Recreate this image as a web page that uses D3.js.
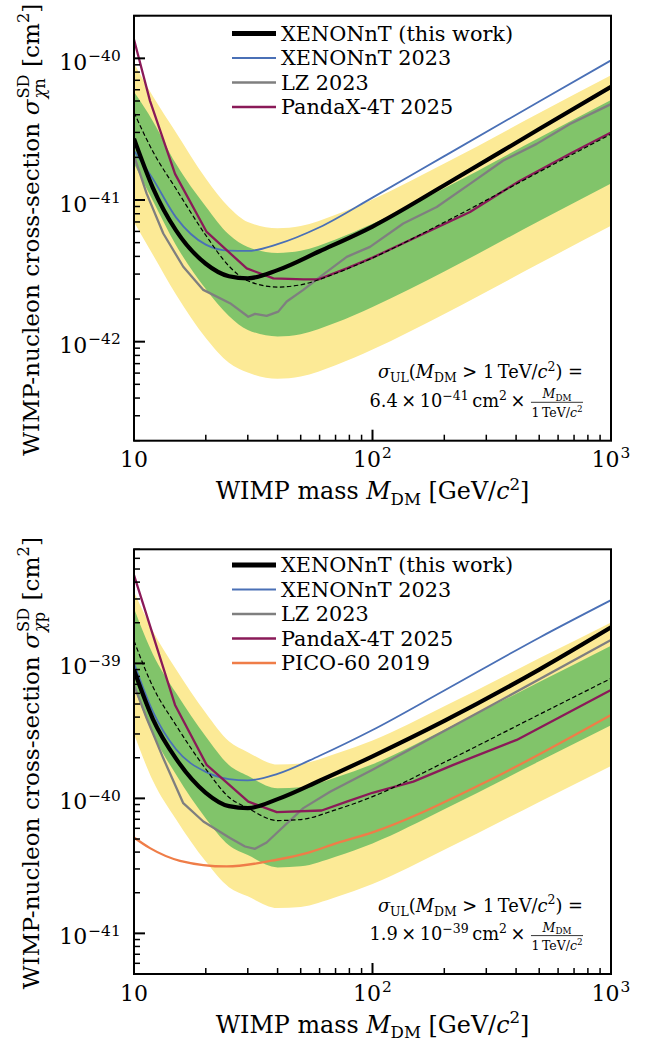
<!DOCTYPE html>
<html>
<head>
<meta charset="utf-8">
<script src="https://cdn.jsdelivr.net/npm/d3@7"></script>
<style>
  body { margin: 0; background: #fff; }
  svg text { font-family: "DejaVu Serif", serif; fill: #000; white-space: pre; }
</style>
</head>
<body>
<svg id="chart" width="647" height="1044"></svg>
<script>
// WIMP masses (GeV/c^2) for bands and smooth limit curves
const massBand = [10, 12, 15, 20, 25, 30, 40, 50, 70, 100, 200, 500, 1000];
const massLimit = [10, 12, 15, 20, 25, 30, 40, 60, 100, 200, 500, 1000];

// --- SD WIMP-neutron (top) ---
const nMedian = [4.15e-41, 2.2e-41, 1.2e-41, 5.64e-42, 3.42e-42, 2.69e-42, 2.43e-42, 2.52e-42, 3.03e-42, 3.9e-42, 6.96e-42, 1.58e-41, 2.92e-41];
const n1sUp = [5.8e-41, 3.6e-41, 1.8e-41, 9.0e-42, 5.7e-42, 4.65e-42, 4.23e-42, 4.38e-42, 5.27e-42, 6.79e-42, 1.21e-41, 2.75e-41, 5.08e-41];
const n2sUp = [9.2e-41, 5.4e-41, 3.0e-41, 1.42e-41, 8.9e-42, 7.0e-42, 6.32e-42, 6.55e-42, 7.88e-42, 1.01e-41, 1.81e-41, 4.11e-41, 7.59e-41];
const n1sLo = [1.8e-41, 9.9e-42, 4.8e-42, 2.35e-42, 1.52e-42, 1.21e-42, 1.09e-42, 1.13e-42, 1.36e-42, 1.76e-42, 3.13e-42, 7.11e-42, 1.31e-41];
const n2sLo = [7.0e-42, 4.1e-42, 2.15e-42, 1.06e-42, 7.1e-43, 6.05e-43, 5.47e-43, 5.67e-43, 6.82e-43, 8.8e-43, 1.57e-42, 3.56e-42, 6.57e-42];
const nThisWork = [2.71e-41, 1.22e-41, 6.1e-42, 3.55e-42, 2.9e-42, 2.8e-42, 3.2e-42, 4.35e-42, 6.5e-42, 1.27e-41, 3.17e-41, 6.3e-41];
const nXenon2023 = [2.23e-41, 1.41e-41, 7.54e-42, 4.84e-42, 4.39e-42, 4.37e-42, 4.88e-42, 6.42e-42, 1.04e-41, 2.04e-41, 4.96e-41, 9.68e-41];
const nLzMass = [10, 11.3, 13.27, 16.09, 19.53, 25.26, 30.15, 32.16, 36.0, 40.27, 43.69, 51.28, 60.26, 77.97, 97.6, 134.6, 185.9, 256.3, 353.5, 488, 673, 1000];
const nLz = [2.06e-41, 1.11e-41, 5.80e-42, 3.38e-42, 2.32e-42, 1.87e-42, 1.50e-42, 1.57e-42, 1.52e-42, 1.63e-42, 1.92e-42, 2.32e-42, 2.87e-42, 3.97e-42, 4.67e-42, 6.82e-42, 8.92e-42, 1.30e-41, 1.90e-41, 2.49e-41, 3.44e-41, 4.75e-41];
const nPandaMass = [10, 11.67, 14.86, 20.17, 29.7, 38.4, 51.3, 59.3, 78, 100, 256.3, 415.4, 673, 1000];
const nPanda = [1.36e-40, 5.01e-41, 1.53e-41, 5.95e-42, 3.29e-42, 2.80e-42, 2.75e-42, 2.75e-42, 3.29e-42, 3.92e-42, 8.22e-42, 1.37e-41, 2.12e-41, 3.00e-41];

// --- SD WIMP-proton (bottom) ---
const pMedian = [1.47e-39, 6.71e-40, 3.48e-40, 1.65e-40, 1.02e-40, 8.47e-41, 6.85e-41, 6.97e-41, 8.22e-41, 1.03e-40, 1.85e-40, 4.18e-40, 7.74e-40];
const p1sUp = [2.55e-39, 1.17e-39, 6.05e-40, 2.87e-40, 1.77e-40, 1.47e-40, 1.19e-40, 1.21e-40, 1.43e-40, 1.79e-40, 3.22e-40, 7.27e-40, 1.35e-39];
const p2sUp = [3.4e-39, 1.74e-39, 9.05e-40, 4.29e-40, 2.65e-40, 2.2e-40, 1.78e-40, 1.81e-40, 2.14e-40, 2.68e-40, 4.81e-40, 1.09e-39, 2.01e-39];
const p1sLo = [6.6e-40, 3.0e-40, 1.5e-40, 7.1e-41, 4.5e-41, 3.8e-41, 3.08e-41, 3.14e-41, 3.7e-41, 4.64e-41, 8.3e-41, 1.88e-40, 3.48e-40];
const p2sLo = [3.0e-40, 1.35e-40, 7.0e-41, 3.4e-41, 2.2e-41, 1.88e-41, 1.54e-41, 1.57e-41, 1.85e-41, 2.32e-41, 4.16e-41, 9.4e-41, 1.74e-40];
const pThisWork = [8.92e-40, 3.87e-40, 1.97e-40, 1.10e-40, 8.76e-41, 8.47e-41, 9.87e-41, 1.35e-40, 2.05e-40, 3.75e-40, 9.0e-40, 1.85e-39];
const pXenon2023 = [1.0e-39, 4.39e-40, 2.31e-40, 1.57e-40, 1.39e-40, 1.36e-40, 1.52e-40, 2.07e-40, 3.21e-40, 6.3e-40, 1.55e-39, 2.94e-39];
const pLzMass = [10, 11.3, 13.27, 16.09, 19.53, 25.26, 29.2, 32.16, 36.0, 40.27, 51.28, 66.4, 100, 301, 1000];
const pLz = [6.91e-40, 3.92e-40, 1.98e-40, 9.21e-41, 6.74e-41, 5.08e-41, 4.40e-41, 4.23e-41, 4.71e-41, 5.68e-41, 8.47e-41, 1.12e-40, 1.63e-40, 4.67e-40, 1.49e-39];
const pPandaMass = [10, 14.86, 20.17, 30.15, 39.7, 61.2, 78, 100, 148.3, 218.2, 402.3, 1000];
const pPanda = [4.50e-39, 4.92e-40, 1.77e-40, 9.47e-41, 7.91e-41, 8.13e-41, 9.47e-41, 1.10e-40, 1.33e-40, 1.77e-40, 2.71e-40, 6.35e-40];
const pPicoMass = [10, 11.67, 15.59, 24.47, 39.7, 53.0, 70.8, 100, 282.3, 1000];
const pPico = [5.13e-41, 4.28e-41, 3.45e-41, 3.13e-41, 3.51e-41, 3.93e-41, 4.66e-41, 5.6e-41, 1.26e-40, 4.15e-40];

const cYellow = "#fcea96", cGreen = "#81c46a", cBlue = "#4a70b6", cGray = "#7f7f7f",
      cPurple = "#8a1a58", cOrange = "#ef7d48";

const svg = d3.select("#chart");
const plotLeft = 134, plotRight = 611;
const tickFont = 22, labelFont = 23.8, yLabelFont = 23.2, legendFont = 20.8, noteFont = 17.8;
const thin = "\u2009";

// text with sub/superscripts built from pieces, measured as we go
function rich(parent, parts, size) {
  const g = parent.append("g");
  let cur = 0, lastStart = 0;
  parts.forEach(p => {
    const start = p.stack ? lastStart : cur + (p.dx || 0);
    const t = g.append("text")
      .attr("x", start)
      .attr("y", (p.dy || 0) * size)
      .attr("font-size", size * (p.s || 1));
    const spans = typeof p.t === "string" ? [[p.t, p.it]] : p.t;
    spans.forEach(([s, it]) => t.append("tspan").attr("font-style", it ? "italic" : null).text(s));
    const w = t.node().getComputedTextLength();
    if (p.stack) cur = Math.max(cur, start + w);
    else { lastStart = start; cur = start + w; }
  });
  return { g, width: cur };
}
function place(r, x, y, anchor, rot) {
  const off = anchor === "end" ? -r.width : anchor === "middle" ? -r.width / 2 : 0;
  r.g.attr("transform", `translate(${x},${y})${rot ? ` rotate(${rot})` : ""} translate(${off},0)`);
  return r;
}
const sup = (t) => ({ t, s: 0.7, dy: -0.4 });
const sub = (t) => ({ t, s: 0.7, dy: 0.22 });

const panels = [
  {
    id: "n", top: 15.7, bottom: 440.7, yDomain: [2e-43, 2e-40], labelShift: 11.5,
    bands: [n2sLo, n2sUp, n1sLo, n1sUp], median: nMedian,
    lines: [
      { m: massLimit, s: nXenon2023, color: cBlue, w: 1.8, smooth: true },
      { m: nLzMass, s: nLz, color: cGray, w: 2.3 },
      { m: nPandaMass, s: nPanda, color: cPurple, w: 2.3 }
    ],
    limit: nThisWork, sub: "n",
    legend: ["XENONnT (this work)", "XENONnT 2023", "LZ 2023", "PandaX-4T 2025"],
    legendY: 33.5, coef: "6.4", exp: "−41"
  },
  {
    id: "p", top: 549.3, bottom: 974, yDomain: [5e-42, 7e-39], labelShift: 11,
    bands: [p2sLo, p2sUp, p1sLo, p1sUp], median: pMedian,
    lines: [
      { m: massLimit, s: pXenon2023, color: cBlue, w: 1.8, smooth: true },
      { m: pLzMass, s: pLz, color: cGray, w: 2.3 },
      { m: pPandaMass, s: pPanda, color: cPurple, w: 2.3 },
      { m: pPicoMass, s: pPico, color: cOrange, w: 2.3, smooth: true }
    ],
    limit: pThisWork, sub: "p",
    legend: ["XENONnT (this work)", "XENONnT 2023", "LZ 2023", "PandaX-4T 2025", "PICO-60 2019"],
    legendY: 565, coef: "1.9", exp: "−39"
  }
];

panels.forEach(drawPanel);

function drawPanel(p) {
  const x = d3.scaleLog().domain([10, 1000]).range([plotLeft, plotRight]);
  const y = d3.scaleLog().domain(p.yDomain).range([p.bottom, p.top]);
  const g = svg.append("g");

  g.append("clipPath").attr("id", "clip-" + p.id).append("rect")
    .attr("x", plotLeft).attr("y", p.top)
    .attr("width", plotRight - plotLeft).attr("height", p.bottom - p.top);
  const plot = g.append("g").attr("clip-path", `url(#clip-${p.id})`);

  // brazil bands
  const band = (lo, hi, color) => plot.append("path")
    .datum(massBand.map((m, i) => [m, lo[i], hi[i]]))
    .attr("fill", color)
    .attr("d", d3.area().curve(d3.curveMonotoneX)
      .x(d => x(d[0])).y0(d => y(d[1])).y1(d => y(d[2])));
  band(p.bands[0], p.bands[1], cYellow);
  band(p.bands[2], p.bands[3], cGreen);

  const line = (m, s, color, w, smooth, dash) => plot.append("path")
    .datum(m.map((v, i) => [v, s[i]]))
    .attr("fill", "none").attr("stroke", color).attr("stroke-width", w)
    .attr("stroke-dasharray", dash || null)
    .attr("stroke-linejoin", "round")
    .attr("d", d3.line().curve(smooth ? d3.curveMonotoneX : d3.curveLinear)
      .x(d => x(d[0])).y(d => y(d[1])));

  p.lines.forEach(l => line(l.m, l.s, l.color, l.w, l.smooth));
  line(massBand, p.median, "#000", 1.2, true, "4.5,2.5");
  line(massLimit, p.limit, "#000", 4.2, true);

  // axes frame
  g.append("rect").attr("x", plotLeft).attr("y", p.top)
    .attr("width", plotRight - plotLeft).attr("height", p.bottom - p.top)
    .attr("fill", "none").attr("stroke", "#000").attr("stroke-width", 2);

  // y ticks (inward)
  const [y0, y1] = p.yDomain;
  for (let e = Math.floor(Math.log10(y0)); e <= Math.ceil(Math.log10(y1)); e++) {
    for (let k = 1; k <= 9; k++) {
      const v = k * Math.pow(10, e);
      if (v < y0 * 0.999 || v > y1 * 1.001) continue;
      const major = k === 1;
      g.append("line").attr("x1", plotLeft).attr("x2", plotLeft + (major ? 11 : 6))
        .attr("y1", y(v)).attr("y2", y(v))
        .attr("stroke", "#000").attr("stroke-width", major ? 2 : 1.5);
      if (major) {
        const r = rich(g, [{ t: "10" }, { t: "−" + (-e), s: 0.7, dy: -0.4, dx: 1 }], tickFont);
        place(r, plotLeft - 13.3, y(v) + p.labelShift, "end");
      }
    }
  }
  // x ticks (inward)
  for (let e = 1; e <= 3; e++) {
    for (let k = 1; k <= 9; k++) {
      const v = k * Math.pow(10, e);
      if (v > 1000) continue;
      const major = k === 1;
      g.append("line").attr("x1", x(v)).attr("x2", x(v))
        .attr("y1", p.bottom).attr("y2", p.bottom - (major ? 11 : 6))
        .attr("stroke", "#000").attr("stroke-width", major ? 2 : 1.5);
      if (major) {
        const parts = e === 1 ? [{ t: "10" }] : [{ t: "10" }, { t: String(e), s: 0.7, dy: -0.4, dx: 1 }];
        place(rich(g, parts, tickFont), x(v), p.bottom + 26.5, "middle");
      }
    }
  }

  // axis labels
  place(rich(g, [{ t: "WIMP mass " }, { t: "M", it: true }, sub("DM"),
    { t: " [GeV/" }, { t: "c", it: true }, sup("2"), { t: "]" }], labelFont),
    (plotLeft + plotRight) / 2, p.bottom + 58.6, "middle");
  place(rich(g, [{ t: "WIMP-nucleon cross-section " }, { t: "σ", it: true },
    { t: "SD", s: 0.7, dy: -0.42, dx: 1 }, { t: [["χ", true], [p.sub, false]], s: 0.7, dy: 0.3, stack: true },
    { t: " [cm" }, sup("2"), { t: "]" }], yLabelFont),
    38.5, (p.top + p.bottom) / 2 + 1.5, "middle", -90);

  // legend
  const lg = g.append("g");
  const styles = [{ c: "#000", w: 5 }, { c: cBlue, w: 2.2 }, { c: cGray, w: 2.6 }, { c: cPurple, w: 2.4 }, { c: cOrange, w: 2.4 }];
  p.legend.forEach((name, i) => {
    const ly = p.legendY + i * 24.5;
    lg.append("line").attr("x1", 232).attr("x2", 276).attr("y1", ly).attr("y2", ly)
      .attr("stroke", styles[i].c).attr("stroke-width", styles[i].w);
    lg.append("text").attr("x", 281).attr("y", ly + 7).attr("font-size", legendFont).text(name);
  });

  // high-mass scaling note
  const R = 583, base2 = p.bottom - 34;
  place(rich(g, [{ t: "σ", it: true }, sub("UL"), { t: "(" }, { t: "M", it: true }, sub("DM"),
    { t: " > 1" + thin + "TeV/" }, { t: "c", it: true }, sup("2"), { t: ") =" }], noteFont), R, base2 - 28.4, "end");
  const num = rich(g, [{ t: "M", it: true }, sub("DM")], 12.5);
  const den = rich(g, [{ t: "1" + thin + "TeV/" }, { t: "c", it: true }, sup("2")], 12.5);
  const fw = Math.max(num.width, den.width) + 1;
  place(num, R - fw / 2, base2 - 8.4, "middle");
  place(den, R - fw / 2, base2 + 10, "middle");
  g.append("line").attr("x1", R - fw).attr("x2", R).attr("y1", base2 - 4.4).attr("y2", base2 - 4.4)
    .attr("stroke", "#000").attr("stroke-width", 0.8);
  place(rich(g, [{ t: p.coef + thin + "×" + thin + "10" }, sup(p.exp), { t: thin + "cm" }, sup("2"), { t: thin + "×" + thin }], noteFont),
    R - fw - 2, base2, "end");
}
</script>
</body>
</html>
